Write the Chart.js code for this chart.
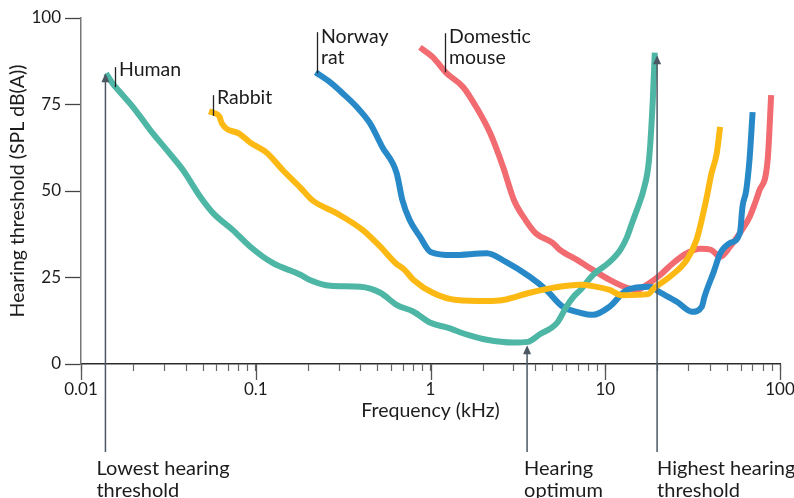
<!DOCTYPE html>
<html>
<head>
<meta charset="utf-8">
<script src="https://cdn.jsdelivr.net/npm/chart.js@4.4.1/dist/chart.umd.min.js"></script>
<style>
  html, body { margin: 0; padding: 0; background: #ffffff; }
  #c { display: block; }
</style>
</head>
<body>
<canvas id="c" width="794" height="498"></canvas>
<script>
// ---- data ----
const humanFreq = [0.0139, 0.0152, 0.0167, 0.0199, 0.0249, 0.031, 0.0384, 0.048, 0.057, 0.074, 0.093, 0.125, 0.18, 0.204, 0.267, 0.396, 0.516, 0.64, 0.80, 1.0, 1.25, 1.62, 2.1, 2.98, 3.6, 4.2, 5.3, 6.0, 6.6, 7.2, 8.5, 10.6, 12.2, 13.3, 14.2, 15.9, 16.5, 17.8, 18.7, 19.2];
const humanDb   = [84, 81, 78.6, 74.2, 67.6, 61.8, 56, 48.4, 43.6, 38.7, 33.9, 29.2, 25.8, 24.3, 22.6, 22.3, 20.6, 17.1, 15.1, 11.9, 10.5, 8.5, 7, 6.2, 6.4, 8.5, 11.9, 16.6, 19.5, 21.4, 25.7, 29.5, 33, 36.6, 40.6, 47.4, 50, 59, 76, 90];

const rabbitFreq = [0.054, 0.058, 0.062, 0.064, 0.081, 0.093, 0.116, 0.143, 0.18, 0.21, 0.29, 0.41, 0.516, 0.63, 0.71, 0.80, 1.03, 1.41, 2.1, 2.6, 3.7, 5.0, 7.2, 8.5, 10.6, 12.4, 17.6, 19, 23.4, 29.3, 33.3, 37.8, 40.5, 43.5, 45.4];
const rabbitDb   = [73, 72.5, 71.5, 69.5, 66.5, 64, 61, 56, 51, 47.4, 43.6, 38.7, 33.9, 29.2, 27.2, 24.3, 20.6, 18.5, 18.2, 18.5, 20.6, 22, 22.9, 22.5, 21.4, 19.9, 20.2, 21.9, 25.2, 30.1, 35.9, 47.4, 55, 61, 68.5];

const ratFreq = [0.22, 0.267, 0.315, 0.38, 0.45, 0.53, 0.64, 0.69, 0.76, 0.87, 1.0, 1.34, 2.1, 2.7, 3.7, 4.6, 5.7, 7.2, 8.5, 10.6, 13.3, 18, 20.7, 25.7, 31.4, 35.7, 37, 41.8, 45.5, 51.9, 59, 61, 64, 66.9, 69.7];
const ratDb   = [84.3, 81.4, 78.2, 74.2, 69.6, 62.7, 55.2, 47.4, 41.6, 36.8, 32.4, 31.5, 32, 29.5, 25.2, 21.4, 16.6, 14.8, 14.2, 16.6, 21.4, 22.3, 20.6, 18, 15.1, 16.6, 19.5, 26.7, 32, 35, 37.9, 45.5, 50, 59, 72.8];

const mouseFreq = [0.87, 1.03, 1.24, 1.54, 1.83, 2.2, 2.6, 3.0, 3.5, 4.0, 5.0, 5.5, 6.9, 8.5, 10.6, 13.3, 15, 18, 20.7, 24.5, 29.3, 35, 40.3, 45.5, 51.9, 59, 67, 73, 76, 85, 89];
const mouseDb   = [91.5, 88.7, 84, 80, 74.2, 66.6, 57, 47.4, 41.6, 37.8, 35, 33, 30.1, 27.2, 24.3, 22, 21.4, 23.5, 25.8, 29.2, 32, 33.3, 33, 31, 34, 37.9, 42.5, 47.4, 50, 59, 77.7];

const speciesNames = ['Human', 'Rabbit', 'Norway rat', 'Domestic mouse'];
const xMajorTicks = [0.01, 0.1, 1, 10, 100];
const xTickLabels = ['0.01', '0.1', '1', '10', '100'];
const yTicks = [0, 25, 50, 75, 100];

// arrows (annotations): frequency (kHz) and tip threshold (dB)
const arrowFreq  = [0.0138, 3.57, 19.8];
const arrowTipDb = [84, 5.4, 89.2];
const arrowLabels = [['Lowest hearing', 'threshold'], ['Hearing', 'optimum'], ['Highest hearing', 'threshold']];

// species label leaders (frequency, top dB, bottom dB)
const leaderFreq = [0.01565, 0.0569, 0.2233, 1.211];
const leaderTop  = [85.8, 77.7, 95.9, 95.6];
const leaderBot  = [80.0, 71.7, 84.0, 84.3];

// ---- build ----
function pts(f, d) { return f.map((v, i) => ({ x: v, y: d[i] })); }
const minorTicks = [];
for (let e = -2; e <= 1; e++) {
  for (let s = 1; s <= 9; s++) minorTicks.push(+(s * Math.pow(10, e)).toPrecision(3));
}
minorTicks.push(100);

const FONT = 'Lato, "Open Sans", "DejaVu Sans", sans-serif';
const TEXT = '#1c1c1c';
const ARROW = '#4b5762';

function lineDs(label, data, color) {
  return {
    label, data, borderColor: color, backgroundColor: color,
    borderWidth: 6, pointRadius: 0, fill: false, showLine: true,
    cubicInterpolationMode: 'monotone', borderCapStyle: 'butt', borderJoinStyle: 'round'
  };
}

const annot = {
  id: 'annot',
  afterDraw(chart) {
    const { ctx, scales: { x, y }, chartArea } = chart;
    ctx.save();
    // major x ticks (longer)
    ctx.strokeStyle = '#555';
    ctx.lineWidth = 1.3;
    xMajorTicks.forEach(v => {
      const px = Math.round(x.getPixelForValue(v)) + 0.5;
      ctx.beginPath();
      ctx.moveTo(px, chartArea.bottom);
      ctx.lineTo(px, chartArea.bottom + 16);
      ctx.stroke();
    });
    // arrows
    ctx.strokeStyle = ARROW;
    ctx.fillStyle = ARROW;
    ctx.lineWidth = 1.5;
    const arrowBottom = chartArea.bottom + 88;
    const labelDx = [-9, -3, 0];
    arrowFreq.forEach((f, i) => {
      const px = x.getPixelForValue(f);
      const tip = y.getPixelForValue(arrowTipDb[i]);
      ctx.beginPath();
      ctx.moveTo(px, arrowBottom);
      ctx.lineTo(px, tip + 6);
      ctx.stroke();
      ctx.beginPath();
      ctx.moveTo(px, tip);
      ctx.lineTo(px - 4, tip + 9);
      ctx.lineTo(px + 4, tip + 9);
      ctx.closePath();
      ctx.fill();
    });
    ctx.fillStyle = TEXT;
    ctx.textBaseline = 'alphabetic';
    ctx.textAlign = 'left';
    ctx.font = '20px ' + FONT;
    arrowFreq.forEach((f, i) => {
      const px = x.getPixelForValue(f) + labelDx[i];
      arrowLabels[i].forEach((t, j) => ctx.fillText(t, px, chartArea.bottom + 111 + j * 22));
    });
    // species leaders and labels
    ctx.strokeStyle = '#222';
    ctx.lineWidth = 1.3;
    const lines = [['Human'], ['Rabbit'], ['Norway', 'rat'], ['Domestic', 'mouse']];
    const baseDb = [83.2, 75.1, 92.7, 92.7];
    ctx.font = '19.5px ' + FONT;
    leaderFreq.forEach((f, i) => {
      const px = Math.round(x.getPixelForValue(f)) + 0.5;
      ctx.beginPath();
      ctx.moveTo(px, y.getPixelForValue(leaderTop[i]));
      ctx.lineTo(px, y.getPixelForValue(leaderBot[i]));
      ctx.stroke();
      const by = y.getPixelForValue(baseDb[i]);
      lines[i].forEach((t, j) => ctx.fillText(t, px + 3.5, by + j * 20.5));
    });
    ctx.restore();
  }
};

new Chart(document.getElementById('c'), {
  type: 'scatter',
  data: {
    datasets: [
      lineDs(speciesNames[1], pts(rabbitFreq, rabbitDb), '#fdb913'),
      lineDs(speciesNames[0], pts(humanFreq, humanDb), '#4db6a5'),
      lineDs(speciesNames[2], pts(ratFreq, ratDb), '#2789c8'),
      lineDs(speciesNames[3], pts(mouseFreq, mouseDb), '#f16b70')
    ]
  },
  options: {
    responsive: false,
    animation: false,
    events: [],
    layout: { padding: { left: 0, right: 14, top: 18, bottom: 0 } },
    plugins: { legend: { display: false }, tooltip: { enabled: false } },
    scales: {
      x: {
        type: 'logarithmic',
        min: 0.01, max: 100,
        afterBuildTicks(scale) { scale.ticks = minorTicks.map(v => ({ value: v, major: xMajorTicks.includes(v) })); },
        afterFit(scale) { scale.height = 134; scale.paddingRight = 0; scale.paddingLeft = 0; },
        grid: { display: true, drawOnChartArea: false, drawTicks: true, tickLength: 7, tickColor: '#666', tickWidth: 1.2 },
        border: { display: true, color: '#2b2b2b', width: 1.5 },
        ticks: {
          autoSkip: false, maxRotation: 0, minRotation: 0, padding: 8,
          color: TEXT, font: { family: FONT, size: 17 },
          callback(value) {
            const i = xMajorTicks.findIndex(m => Math.abs(m - value) < 1e-9);
            return i >= 0 ? xTickLabels[i] : '';
          }
        },
        title: { display: true, text: 'Frequency (kHz)', color: TEXT, font: { family: FONT, size: 19.5 }, padding: { top: 0, bottom: 76 } }
      },
      y: {
        type: 'linear',
        min: 0, max: 100,
        afterBuildTicks(scale) { scale.ticks = yTicks.map(v => ({ value: v })); },
        afterFit(scale) { scale.width = 81; scale.paddingTop = 0; scale.paddingBottom = 0; },
        grid: { display: true, drawOnChartArea: false, drawTicks: true, tickLength: 16, tickColor: '#444', tickWidth: 1.3 },
        border: { display: true, color: '#777', width: 1.5 },
        ticks: { padding: 4, color: TEXT, font: { family: FONT, size: 17 } },
        title: { display: true, text: 'Hearing threshold (SPL dB(A))', color: TEXT, font: { family: FONT, size: 19.5 }, padding: { top: 6, bottom: 0 } }
      }
    }
  },
  plugins: [annot]
});
</script>
</body>
</html>
